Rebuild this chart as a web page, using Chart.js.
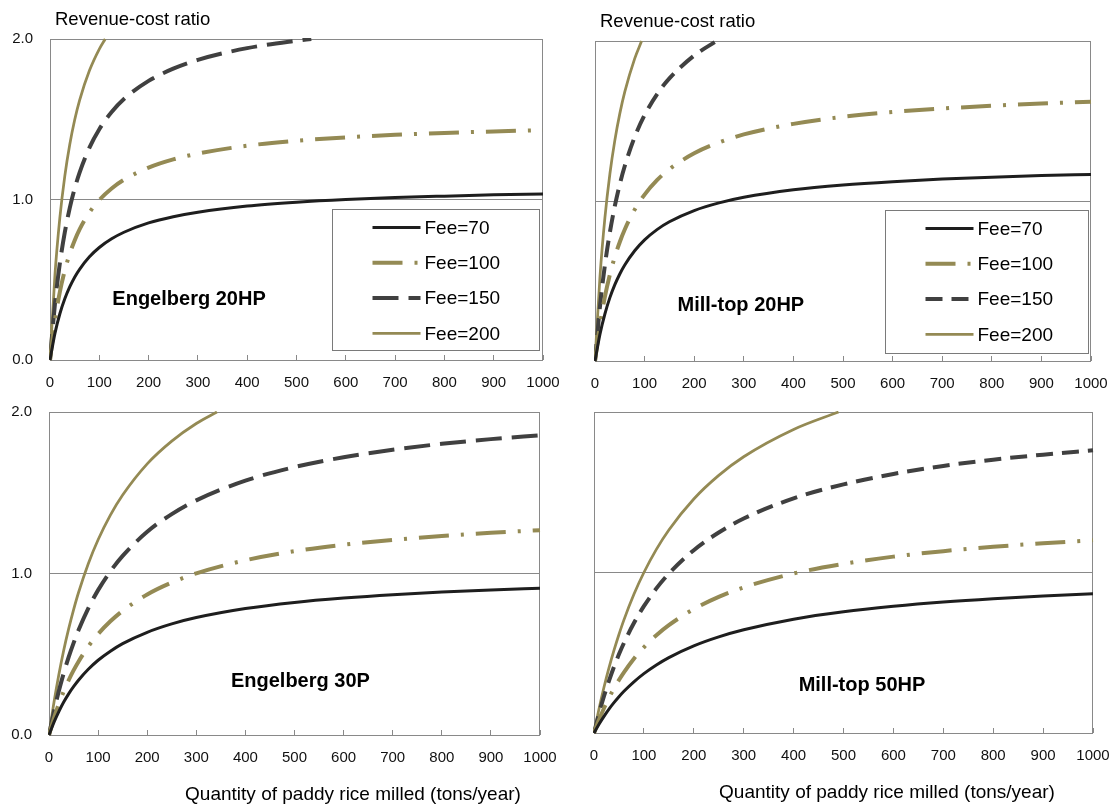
<!DOCTYPE html>
<html>
<head>
<meta charset="utf-8">
<title>Revenue-cost ratio by mill type</title>
<script src="https://cdn.jsdelivr.net/npm/chart.js@4.4.1/dist/chart.umd.min.js"></script>
<style>
  html, body { margin: 0; padding: 0; background: #fff; }
  #wrap { position: relative; width: 1118px; height: 808px; overflow: hidden; }
  canvas { position: absolute; }
</style>
</head>
<body>
<div id="wrap">
  <canvas id="eng20" width="559" height="400" style="left:0;top:0"></canvas>
  <canvas id="mill20" width="559" height="400" style="left:559px;top:0"></canvas>
  <canvas id="eng30" width="559" height="408" style="left:0;top:400px"></canvas>
  <canvas id="mill50" width="559" height="408" style="left:559px;top:400px"></canvas>
</div>
<script>
// quantity of paddy milled (tons/year), shared x values
const quantity = [0, 10, 20, 30, 40, 50, 60, 80, 100, 125, 150, 200, 250, 300, 400, 500, 600, 700, 800, 900, 1000];
const feeLabels = ["Fee=70", "Fee=100", "Fee=150", "Fee=200"];
const xTicks = [0, 1000, 100];   // min, max, step
const yTicks = [0, 2, 1];

// Engelberg 20HP
const eng20Fee70 = [0, 0.166, 0.288, 0.381, 0.455, 0.516, 0.565, 0.643, 0.701, 0.755, 0.796, 0.854, 0.893, 0.921, 0.959, 0.983, 1.000, 1.012, 1.021, 1.029, 1.035];
const eng20Fee100 = [0, 0.247, 0.424, 0.557, 0.662, 0.745, 0.814, 0.919, 0.997, 1.069, 1.123, 1.199, 1.250, 1.286, 1.335, 1.366, 1.387, 1.403, 1.415, 1.424, 1.432];
const eng20Fee150 = [0, 0.349, 0.603, 0.795, 0.946, 1.068, 1.168, 1.323, 1.438, 1.545, 1.626, 1.739, 1.815, 1.870, 1.943, 1.989];
const eng20Fee200 = [0, 0.529, 0.887, 1.146, 1.341, 1.495, 1.618, 1.803, 1.937];
const eng20TopOut = [null, null, 530, 112]; // quantity where a curve leaves the top of the frame

// Mill-top 20HP
const mill20Fee70 = [0, 0.168, 0.295, 0.396, 0.477, 0.544, 0.600, 0.689, 0.757, 0.821, 0.870, 0.940, 0.988, 1.023, 1.070, 1.100, 1.121, 1.137, 1.149, 1.159, 1.166];
const mill20Fee100 = [0, 0.227, 0.402, 0.540, 0.652, 0.744, 0.822, 0.946, 1.040, 1.130, 1.199, 1.298, 1.366, 1.416, 1.482, 1.526, 1.556, 1.578, 1.595, 1.609, 1.620];
const mill20Fee150 = [0, 0.341, 0.600, 0.804, 0.969, 1.105, 1.219, 1.400, 1.537, 1.667, 1.766, 1.909];
const mill20Fee200 = [0, 0.526, 0.896, 1.169, 1.379, 1.546, 1.682, 1.890];
const mill20TopOut = [null, null, 245, 94];

// Engelberg 30P
const eng30Fee70 = [0, 0.078, 0.145, 0.204, 0.255, 0.299, 0.339, 0.407, 0.463, 0.519, 0.566, 0.636, 0.688, 0.727, 0.783, 0.821, 0.848, 0.869, 0.885, 0.898, 0.909];
const eng30Fee100 = [0, 0.103, 0.192, 0.270, 0.339, 0.400, 0.454, 0.548, 0.625, 0.704, 0.769, 0.870, 0.944, 1.001, 1.082, 1.138, 1.178, 1.208, 1.232, 1.252, 1.268];
const eng30Fee150 = [0, 0.145, 0.272, 0.383, 0.482, 0.569, 0.648, 0.784, 0.897, 1.013, 1.109, 1.258, 1.368, 1.453, 1.575, 1.659, 1.720, 1.766, 1.803, 1.832, 1.856];
const eng30Fee200 = [0, 0.200, 0.373, 0.525, 0.657, 0.775, 0.881, 1.061, 1.209, 1.362, 1.486, 1.679, 1.820, 1.929];
const eng30TopOut = [null, null, null, 342];

// Mill-top 50HP
const mill50Fee70 = [0, 0.055, 0.104, 0.149, 0.189, 0.226, 0.260, 0.319, 0.370, 0.424, 0.470, 0.543, 0.599, 0.643, 0.709, 0.755, 0.789, 0.816, 0.837, 0.854, 0.868];
const mill50Fee100 = [0, 0.082, 0.154, 0.219, 0.277, 0.330, 0.378, 0.463, 0.534, 0.609, 0.672, 0.772, 0.848, 0.907, 0.994, 1.054, 1.099, 1.133, 1.160, 1.182, 1.201];
const mill50Fee150 = [0, 0.121, 0.229, 0.325, 0.412, 0.490, 0.561, 0.685, 0.790, 0.901, 0.993, 1.139, 1.249, 1.336, 1.462, 1.549, 1.614, 1.664, 1.703, 1.734, 1.761];
const mill50Fee200 = [0, 0.150, 0.285, 0.406, 0.515, 0.614, 0.705, 0.864, 1.000, 1.144, 1.265, 1.458, 1.605, 1.721, 1.891];
const mill50TopOut = [null, null, null, 490];

const AXIS_GRAY = "#898989";
const OLIVE = "#948a54";
const INK = "#1e1e1e";
const SLATE = "#404040";
const FONT = "'Liberation Sans', Arial, sans-serif";

Chart.defaults.font.family = FONT;
Chart.defaults.color = "#111";

const panels = [
  {
    id: "eng20", name: "Engelberg 20HP", nameAt: [282, 0.38],
    series: [eng20Fee70, eng20Fee100, eng20Fee150, eng20Fee200], topOut: eng20TopOut,
    shortDash: false, header: true, yLabels: true, xTitle: null,
    legend: { right: 4, bottom: 10, width: 207, height: 141 },
    pad: { top: 39, right: 16 }, yWidth: 50, xHeight: 40,
  },
  {
    id: "mill20", name: "Mill-top 20HP", nameAt: [294, 0.35],
    series: [mill20Fee70, mill20Fee100, mill20Fee150, mill20Fee200], topOut: mill20TopOut,
    shortDash: true, header: true, yLabels: false, xTitle: null,
    legend: { right: 3, bottom: 8, width: 203, height: 143 },
    pad: { top: 41, right: 27 }, yWidth: 36, xHeight: 39,
  },
  {
    id: "eng30", name: "Engelberg 30P", nameAt: [512, 0.33],
    series: [eng30Fee70, eng30Fee100, eng30Fee150, eng30Fee200], topOut: eng30TopOut,
    shortDash: false, header: false, yLabels: true, xTitle: 353,
    legend: null,
    pad: { top: 12, right: 19 }, yWidth: 49, xHeight: 73,
  },
  {
    id: "mill50", name: "Mill-top 50HP", nameAt: [537, 0.295],
    series: [mill50Fee70, mill50Fee100, mill50Fee150, mill50Fee200], topOut: mill50TopOut,
    shortDash: true, header: false, yLabels: false, xTitle: 328,
    legend: null,
    pad: { top: 12, right: 25 }, yWidth: 35, xHeight: 75,
  },
];

function toPoints(values, topOut) {
  const pts = values.map((v, i) => ({ x: quantity[i], y: v }));
  if (topOut != null) pts.push({ x: topOut, y: yTicks[1] });
  return pts;
}

function makeDatasets(p) {
  const styles = [
    { borderColor: INK, borderWidth: 3, borderDash: [] },
    { borderColor: OLIVE, borderWidth: 4, borderDash: [30, 12, 3, 12] },
    { borderColor: SLATE, borderWidth: 4, borderDash: p.shortDash ? [17, 9] : [26, 10] },
    { borderColor: OLIVE, borderWidth: 2.75, borderDash: [] },
  ];
  return p.series.map((vals, i) => ({
    label: feeLabels[i],
    data: toPoints(vals, p.topOut[i]),
    ...styles[i],
    pointRadius: 0,
    fill: false,
    cubicInterpolationMode: "monotone",
    clip: 1,
  }));
}

// frame, panel name, header, x title and the boxed legend
const panelDecor = {
  id: "panelDecor",
  beforeDatasetsDraw(chart) {
    const { ctx, chartArea: a } = chart;
    ctx.save();
    ctx.strokeStyle = AXIS_GRAY;
    ctx.lineWidth = 1;
    ctx.strokeRect(Math.round(a.left) + 0.5, Math.round(a.top) + 0.5,
      Math.round(a.right - a.left) - 1, Math.round(a.bottom - a.top));
    ctx.restore();
  },
  afterDatasetsDraw(chart, args, opts) {
    const { ctx, chartArea: a, scales } = chart;
    const p = opts.panel;
    ctx.save();
    ctx.fillStyle = "#000";
    ctx.textBaseline = "middle";

    ctx.font = "bold 20px " + FONT;
    ctx.textAlign = "center";
    ctx.fillText(p.name, scales.x.getPixelForValue(p.nameAt[0]), scales.y.getPixelForValue(p.nameAt[1]));

    if (p.header) {
      ctx.font = "18.5px " + FONT;
      ctx.textAlign = "left";
      ctx.fillText("Revenue-cost ratio", a.left + 5, a.top - 19);
    }
    if (p.xTitle != null) {
      ctx.font = "19px " + FONT;
      ctx.textAlign = "center";
      ctx.fillText("Quantity of paddy rice milled (tons/year)", p.xTitle, a.bottom + 60);
    }

    if (p.legend) {
      const L = p.legend;
      const bx = Math.round(a.right - L.right - L.width) + 0.5;
      const by = Math.round(a.bottom - L.bottom - L.height) + 0.5;
      ctx.fillStyle = "#fff";
      ctx.fillRect(bx, by, L.width, L.height);
      ctx.strokeStyle = "#7a7a7a";
      ctx.lineWidth = 1;
      ctx.strokeRect(bx, by, L.width, L.height);
      ctx.font = "19px " + FONT;
      ctx.textAlign = "left";
      chart.data.datasets.forEach((ds, i) => {
        const y = by + 18 + i * 35.3;
        const x0 = bx + 40;
        ctx.strokeStyle = ds.borderColor;
        ctx.lineWidth = ds.borderWidth;
        ctx.setLineDash(ds.borderDash);
        ctx.beginPath();
        ctx.moveTo(x0, y);
        ctx.lineTo(x0 + 48, y);
        ctx.stroke();
        ctx.setLineDash([]);
        ctx.fillStyle = "#000";
        ctx.fillText(ds.label, x0 + 52, y + 1);
      });
    }
    ctx.restore();
  },
};

panels.forEach((p) => {
  new Chart(document.getElementById(p.id), {
    type: "line",
    data: { datasets: makeDatasets(p) },
    options: {
      responsive: false,
      animation: false,
      layout: { padding: { top: p.pad.top, right: p.pad.right, left: 0, bottom: 0 } },
      plugins: {
        legend: { display: false },
        tooltip: { enabled: false },
        panelDecor: { panel: p },
      },
      scales: {
        x: {
          type: "linear",
          min: xTicks[0],
          max: xTicks[1],
          border: { display: false },
          grid: { drawOnChartArea: false, drawTicks: true, tickLength: -5, color: AXIS_GRAY },
          ticks: {
            stepSize: xTicks[2],
            autoSkip: false,
            maxRotation: 0,
            padding: 19,
            color: "#111",
            font: { size: 15 },
            callback: (v) => String(v),
          },
          afterFit: (scale) => {
            scale.height = p.xHeight;
            scale.paddingLeft = 0;
            scale.paddingRight = 0;
          },
        },
        y: {
          min: yTicks[0],
          max: yTicks[1],
          border: { display: false },
          grid: {
            drawTicks: false,
            color: (c) => (c.tick && c.tick.value === 1 ? AXIS_GRAY : "rgba(0,0,0,0)"),
          },
          ticks: {
            display: p.yLabels,
            stepSize: yTicks[2],
            padding: 17,
            color: "#111",
            font: { size: 15 },
            callback: (v) => Number(v).toFixed(1),
          },
          afterFit: (scale) => {
            scale.width = p.yWidth;
            scale.paddingTop = 0;
            scale.paddingBottom = 0;
          },
        },
      },
    },
    plugins: [panelDecor],
  });
});
</script>
</body>
</html>
